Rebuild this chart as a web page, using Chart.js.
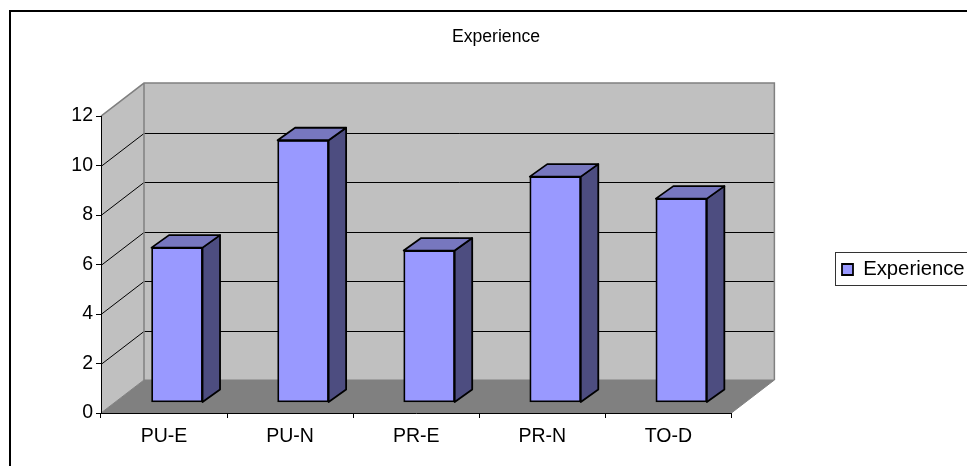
<!DOCTYPE html>
<html>
<head>
<meta charset="utf-8">
<style>
  html, body { margin: 0; padding: 0; width: 967px; height: 466px; overflow: hidden; background: #fff; }
  #frame { position: absolute; left: 9px; top: 10px; width: 970px; height: 470px; border: 2px solid #000; }
  canvas { display: block; }
</style>
</head>
<body>
<div id="frame"><canvas id="chart" width="970" height="470"></canvas></div>
<script src="https://cdn.jsdelivr.net/npm/chart.js@4"></script>
<script>
const categories = ["PU-E", "PU-N", "PR-E", "PR-N", "TO-D"];
const experience = [6.26, 10.6, 6.14, 9.13, 8.24];
const yTicks = [0, 2, 4, 6, 8, 10, 12];

// depth of the back wall and of the bars, in canvas pixels
const wallDepth = { x: 43, y: -33 };
const barOffset = { x: 13, y: -10.5 };
const barDepth = { x: 17.5, y: -12.5 };

function poly(ctx, pts, fill, stroke, width) {
  ctx.beginPath();
  pts.forEach((p, i) => i ? ctx.lineTo(p[0], p[1]) : ctx.moveTo(p[0], p[1]));
  ctx.closePath();
  if (fill) { ctx.fillStyle = fill; ctx.fill(); }
  if (stroke) { ctx.strokeStyle = stroke; ctx.lineWidth = width; ctx.lineJoin = "round"; ctx.stroke(); }
}

const walls = {
  id: "walls",
  beforeDraw(chart) {
    const { ctx, chartArea: a, scales } = chart;
    const dx = wallDepth.x, dy = wallDepth.y;
    ctx.save();
    // back and side wall
    poly(ctx, [[a.left + dx, a.top + dy], [a.right + dx, a.top + dy], [a.right + dx, a.bottom + dy], [a.left + dx, a.bottom + dy]], "#c0c0c0");
    poly(ctx, [[a.left, a.top], [a.left + dx, a.top + dy], [a.left + dx, a.bottom + dy], [a.left, a.bottom]], "#c0c0c0");
    // grid lines follow the value axis
    ctx.strokeStyle = "#000";
    ctx.lineWidth = 1;
    yTicks.slice(1, -1).forEach(v => {
      const y = Math.round(scales.y.getPixelForValue(v)) + 0.5;
      ctx.beginPath();
      ctx.moveTo(a.left, y);
      ctx.lineTo(a.left + dx, y + dy);
      ctx.lineTo(a.right + dx, y + dy);
      ctx.stroke();
    });
    // wall edges
    ctx.strokeStyle = "#808080";
    ctx.lineWidth = 1.5;
    ctx.beginPath();
    ctx.moveTo(a.left, a.top);
    ctx.lineTo(a.left + dx, a.top + dy);
    ctx.lineTo(a.right + dx, a.top + dy);
    ctx.lineTo(a.right + dx, a.bottom + dy);
    ctx.moveTo(a.left + dx, a.top + dy);
    ctx.lineTo(a.left + dx, a.bottom + dy);
    ctx.stroke();
    // floor
    poly(ctx, [[a.left, a.bottom], [a.right, a.bottom], [a.right + dx, a.bottom + dy], [a.left + dx, a.bottom + dy]], "#808080", "#808080", 1);
    ctx.restore();
  },
  beforeDatasetDraw(chart) {
    chart.ctx.save();
    chart.ctx.translate(barOffset.x, barOffset.y);
  },
  afterDatasetDraw(chart, args) {
    const ctx = chart.ctx;
    const dx = barDepth.x, dy = barDepth.y;
    args.meta.data.forEach(bar => {
      const l = bar.x - bar.width / 2, r = bar.x + bar.width / 2;
      poly(ctx, [[r, bar.y], [r + dx, bar.y + dy], [r + dx, bar.base + dy], [r, bar.base]], "#4d4d80", "#000", 1.8);
      poly(ctx, [[l, bar.y], [l + dx, bar.y + dy], [r + dx, bar.y + dy], [r, bar.y]], "#7777bf", "#000", 1.8);
    });
    ctx.restore();
  }
};

const legendFrame = {
  id: "legendFrame",
  afterLayout(chart) {
    const lg = chart.legend;
    const w = lg.right - lg.left;
    const mid = (lg.top + lg.bottom) / 2;
    lg.left = 823;
    lg.right = 823 + w;
    lg.top += 257.5 - mid;
    lg.bottom += 257.5 - mid;
  },
  afterDraw(chart) {
    const ctx = chart.ctx;
    ctx.save();
    ctx.strokeStyle = "#333";
    ctx.lineWidth = 1;
    ctx.strokeRect(824.5, 240.5, 160, 33);
    ctx.restore();
  }
};

new Chart(document.getElementById("chart"), {
  type: "bar",
  plugins: [walls, legendFrame],
  data: {
    labels: categories,
    datasets: [{
      label: "Experience",
      data: experience,
      backgroundColor: "#9999ff",
      borderColor: "#000",
      borderWidth: 1.8,
      borderSkipped: false,
      barThickness: 51,
      clip: false
    }]
  },
  options: {
    responsive: false,
    animation: false,
    devicePixelRatio: 1,
    plugins: {
      title: {
        display: true,
        text: "Experience",
        color: "#000",
        font: { family: "Liberation Sans", size: 17.6, weight: "normal" },
        padding: { top: 15, bottom: 68 }
      },
      legend: {
        position: "right",
        labels: {
          color: "#000",
          font: { family: "Liberation Sans", size: 20.3 },
          boxWidth: 11,
          boxHeight: 11,
          padding: 8
        }
      },
      tooltip: { enabled: false }
    },
    scales: {
      x: {
        afterFit(s) { s.height = 69; },
        grid: { drawOnChartArea: false, tickLength: 5, color: "#000", offset: true },
        border: { color: "#000" },
        ticks: { color: "#000", padding: 7, font: { family: "Liberation Sans", size: 19.5 }, maxRotation: 0 }
      },
      y: {
        min: 0,
        max: 12,
        afterFit(s) { s.width = 90; },
        afterBuildTicks(s) { s.ticks = yTicks.map(v => ({ value: v })); },
        grid: { drawOnChartArea: false, tickLength: 5, color: "#000" },
        border: { color: "#000" },
        ticks: { color: "#000", padding: 3, font: { family: "Liberation Sans", size: 19.5 } }
      },
      // empty axis that holds the gap between the plot and the legend
      gap: {
        position: "right",
        afterFit(s) { s.width = 109; },
        grid: { display: false },
        border: { display: false },
        ticks: { display: false }
      }
    }
  }
});
</script>
</body>
</html>
